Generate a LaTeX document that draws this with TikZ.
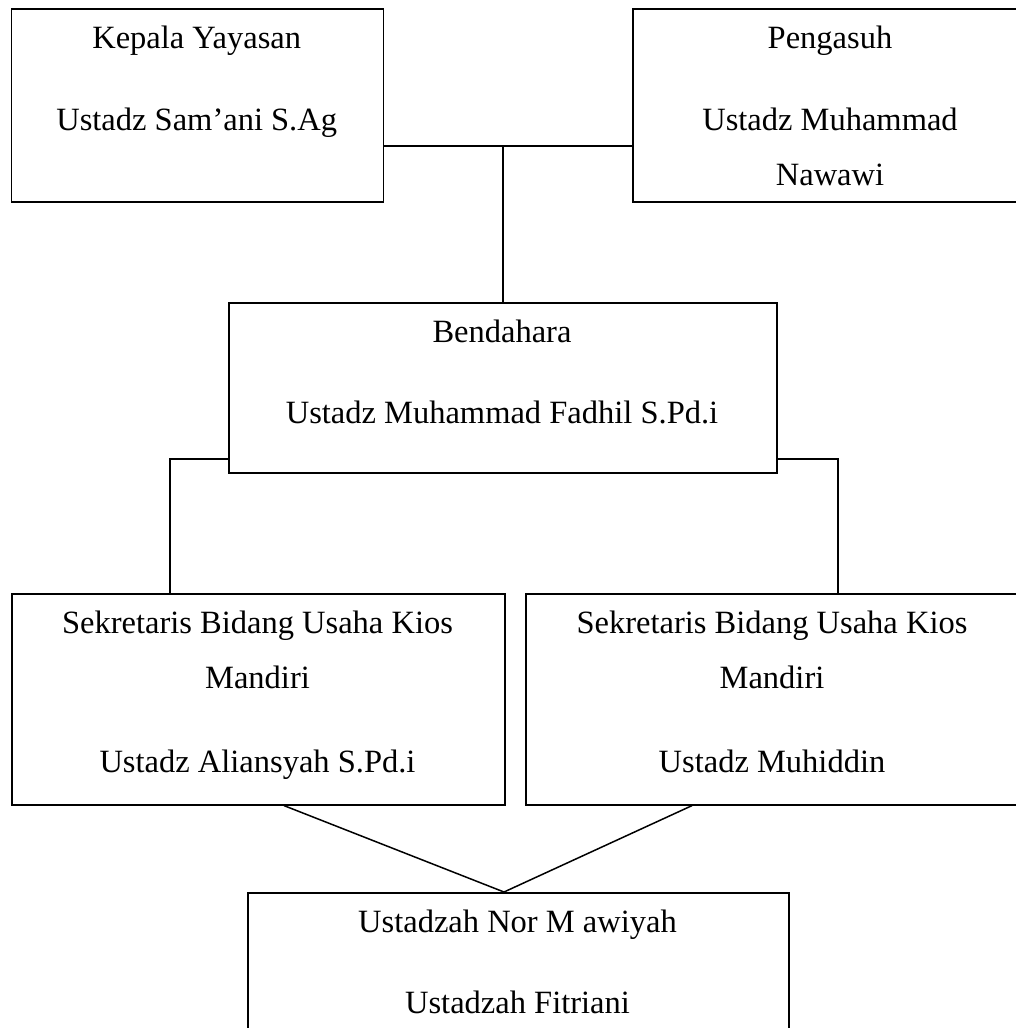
\documentclass[tikz,border=0pt]{standalone}
\usepackage{fontspec}
\setmainfont{Liberation Serif}
\begin{document}
\begin{tikzpicture}[x=1pt,y=-1pt,
  box/.style={draw=black, line width=1.6pt, rectangle, inner sep=0pt, anchor=north west},
  lbl/.style={anchor=base, inner sep=0pt, font=\fontsize{32.5}{36}\selectfont},
  conn/.style={draw=black, line width=1.5pt}]
\useasboundingbox (0,0) rectangle (1016,1028);
\clip (0,0) rectangle (1016,1028);
% boxes
\node[box, minimum width=372pt, minimum height=193pt] (b1) at (10.7,8) {};
\node[box, minimum width=396pt, minimum height=193pt] (b2) at (632,8) {};
\node[box, minimum width=548pt, minimum height=170pt] (b3) at (228,302) {};
\node[box, minimum width=493pt, minimum height=211pt] (b4) at (11,593) {};
\node[box, minimum width=494pt, minimum height=211pt] (b5) at (525,593) {};
\node[box, minimum width=541pt, minimum height=170pt] (b6) at (247,892) {};
% texts
\node[lbl] (t1a) at (196.7,48) {Kepala Yayasan};
\node[lbl] (t1b) at (196.7,130) {Ustadz Sam’ani S.Ag};
\node[lbl] (t2a) at (830,48) {Pengasuh};
\node[lbl] (t2b) at (830,130) {Ustadz Muhammad};
\node[lbl] (t2c) at (830,185) {Nawawi};
\node[lbl] (t3a) at (502,342) {Bendahara};
\node[lbl] (t3b) at (502,423) {Ustadz Muhammad Fadhil S.Pd.i};
\node[lbl] (t4a) at (257.5,633) {Sekretaris Bidang Usaha Kios};
\node[lbl] (t4b) at (257.5,688) {Mandiri};
\node[lbl] (t4c) at (257.5,772) {Ustadz Aliansyah S.Pd.i};
\node[lbl] (t5a) at (772,633) {Sekretaris Bidang Usaha Kios};
\node[lbl] (t5b) at (772,688) {Mandiri};
\node[lbl] (t5c) at (772,772) {Ustadz Muhiddin};
\node[lbl] (t6a) at (517.5,932) {Ustadzah Nor M awiyah};
\node[lbl] (t6b) at (517.5,1013) {Ustadzah Fitriani};
% junctions
\coordinate (j1) at (503,146);
\coordinate (j2) at (170,459);
\coordinate (j3) at (838,459);
\coordinate (p4) at (284,804);
\coordinate (p5) at (692,804);
\coordinate (p6) at (504,892);
% connectors
\draw[conn] (b1.east |- j1) -- (b2.west |- j1);
\draw[conn] (j1) -- (b3.north -| j1);
\draw[conn] (b3.west |- j2) -- (j2) -- (b4.north -| j2);
\draw[conn] (b3.east |- j3) -- (j3) -- (b5.north -| j3);
\draw[conn] (b4.south -| p4) -- (b6.north -| p6);
\draw[conn] (b5.south -| p5) -- (b6.north -| p6);
\end{tikzpicture}
\end{document}
